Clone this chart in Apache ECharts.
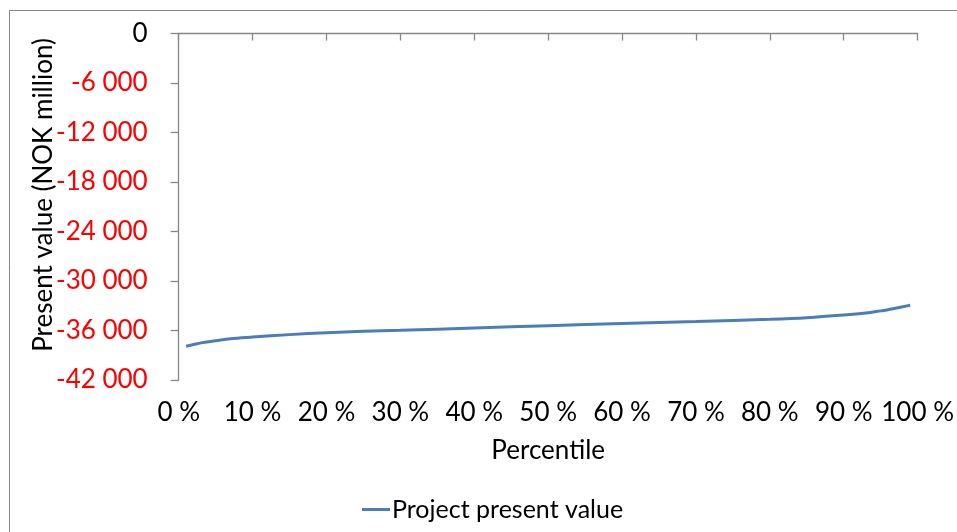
<!DOCTYPE html>
<html>
<head>
<meta charset="utf-8">
<script src="https://cdn.jsdelivr.net/npm/echarts@6/dist/echarts.min.js"></script>
<style>html,body{margin:0;padding:0;background:#fff}#c{width:957px;height:532px}</style>
</head>
<body>
<div id="c"></div>
<script>
var percentiles = [1,2,3,5,7,10,15,20,25,30,40,50,60,70,80,85,90,93,95,96,97,98,99];
var presentValue = [-37900,-37700,-37500,-37250,-37000,-36800,-36500,-36270,-36100,-35980,-35700,-35410,-35150,-34910,-34640,-34450,-34130,-33880,-33620,-33480,-33300,-33120,-32930];
var yTicks = {min:-42000, max:0, step:6000};
var xTicks = {min:0, max:100, step:10};
var seriesName = 'Project present value';
var xName = 'Percentile';
var yName = 'Present value (NOK million)';

var FONT = 'Lato';
var FS = 26;
var chart = echarts.init(document.getElementById('c'));
function fmtNum(v){
  var s = Math.abs(v).toString().replace(/\B(?=(\d{3})+(?!\d))/g,' ');
  return (v<0?'-':'') + s;
}
chart.setOption({
  animation:false,
  backgroundColor:'#fff',
  textStyle:{fontFamily:FONT},
  grid:{left:178.7, right:37.7, top:33.5, bottom:152},
  graphic:[
    {type:'rect', shape:{x:9.5,y:10.5,width:1200,height:1200}, style:{fill:null, stroke:'#868686', lineWidth:1}, silent:true},
    {type:'text', x:44, y:195, rotation:Math.PI/2, style:{text:yName, fontFamily:FONT, fontSize:FS, fill:'#000', align:'center', verticalAlign:'middle'}}
  ],
  legend:{
    data:[seriesName], left:357, top:492, icon:'rect', itemWidth:28, itemHeight:3, itemGap:10,
    textStyle:{fontFamily:FONT, fontSize:25, color:'#000', padding:[0,0,0,-3]}
  },
  xAxis:[
    {type:'value', min:xTicks.min, max:xTicks.max, interval:xTicks.step, position:'bottom',
     axisLine:{show:false}, axisTick:{show:false}, splitLine:{show:false},
     axisLabel:{margin:20, fontFamily:FONT, fontSize:FS, color:'#000', formatter:function(v){return v+' %';}},
     name:xName, nameLocation:'middle', nameGap:58, nameTextStyle:{fontFamily:FONT, fontSize:FS, color:'#000'}},
    {type:'value', min:xTicks.min, max:xTicks.max, interval:xTicks.step, position:'top',
     axisLine:{show:true, onZero:false, lineStyle:{color:'#868686', width:1.3}},
     axisTick:{show:true, inside:true, length:7, lineStyle:{color:'#868686', width:1.3}},
     axisLabel:{show:false}, splitLine:{show:false}}
  ],
  yAxis:{type:'value', min:yTicks.min, max:yTicks.max, interval:yTicks.step,
    axisLine:{show:true, onZero:false, lineStyle:{color:'#868686', width:1.3}},
    axisTick:{show:true, length:8, lineStyle:{color:'#868686', width:1.3}},
    splitLine:{show:false},
    axisLabel:{margin:31, fontFamily:FONT, fontSize:FS, formatter:fmtNum,
      color:function(v){return Number(v)<0?'#FF0000':'#000';}}
  },
  series:[{
    name:seriesName, type:'line', xAxisIndex:0, smooth:0.35, showSymbol:false, symbol:'none',
    data: percentiles.map(function(p,i){return [p, presentValue[i]];}),
    lineStyle:{color:'#4A7EBB', width:3}, itemStyle:{color:'#4A7EBB'}
  }]
});
</script>
</body>
</html>
